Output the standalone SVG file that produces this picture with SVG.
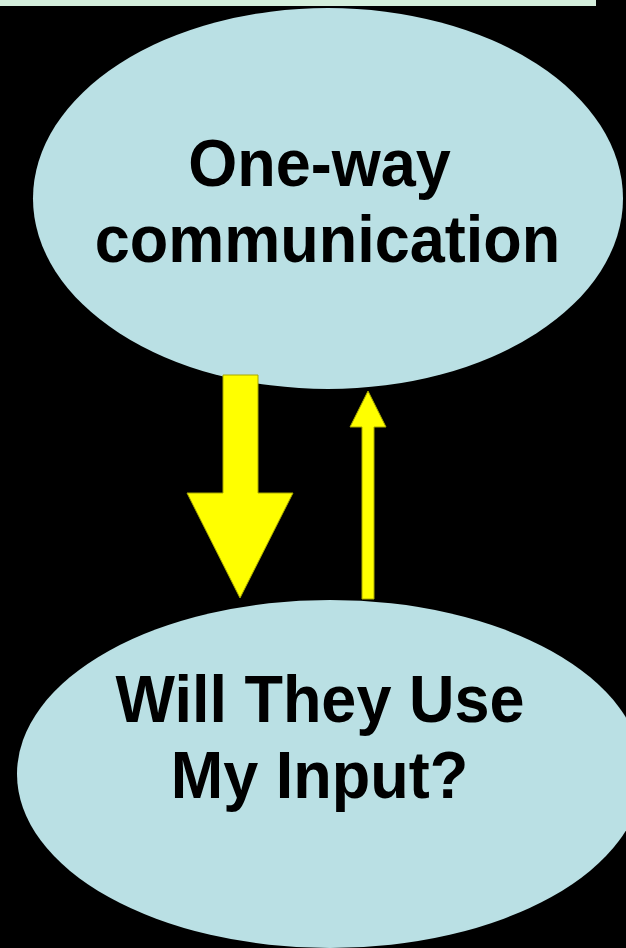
<svg xmlns="http://www.w3.org/2000/svg" width="626" height="948" viewBox="0 0 626 948">
<style>
.node{fill:#bae0e4;}
.lbl{font-family:"Liberation Sans",Arial,sans-serif;font-weight:bold;font-size:63px;fill:#000;text-anchor:middle;}
.arrow{fill:#ffff00;stroke:#a8a800;stroke-width:1;}
</style>
<rect x="0" y="0" width="626" height="948" fill="#000"/>
<rect x="0" y="0" width="596" height="6" fill="#d4eedc"/>
<g id="node-oneway">
<ellipse class="node" cx="328" cy="198.5" rx="295" ry="190.5"/>
<text class="lbl" x="319.5" y="0" transform="translate(0,186) scale(1,1.06)">One-way</text>
<text class="lbl" x="327.5" y="0" transform="translate(0,262) scale(1,1.06)">communication</text>
</g>
<g id="node-input">
<ellipse class="node" cx="330" cy="774" rx="313" ry="174"/>
<text class="lbl" x="320" y="0" transform="translate(0,722) scale(1,1.06)">Will They Use</text>
<text class="lbl" x="319.5" y="0" transform="translate(0,798) scale(1,1.06)">My Input?</text>
</g>
<g id="connectors">
<polygon class="arrow" points="223,375 258,375 258,493 293,493 240,598 187,493 223,493"/>
<polygon class="arrow" points="362,599 374,599 374,427 386,427 368,391 350,427 362,427"/>
</g>
</svg>
